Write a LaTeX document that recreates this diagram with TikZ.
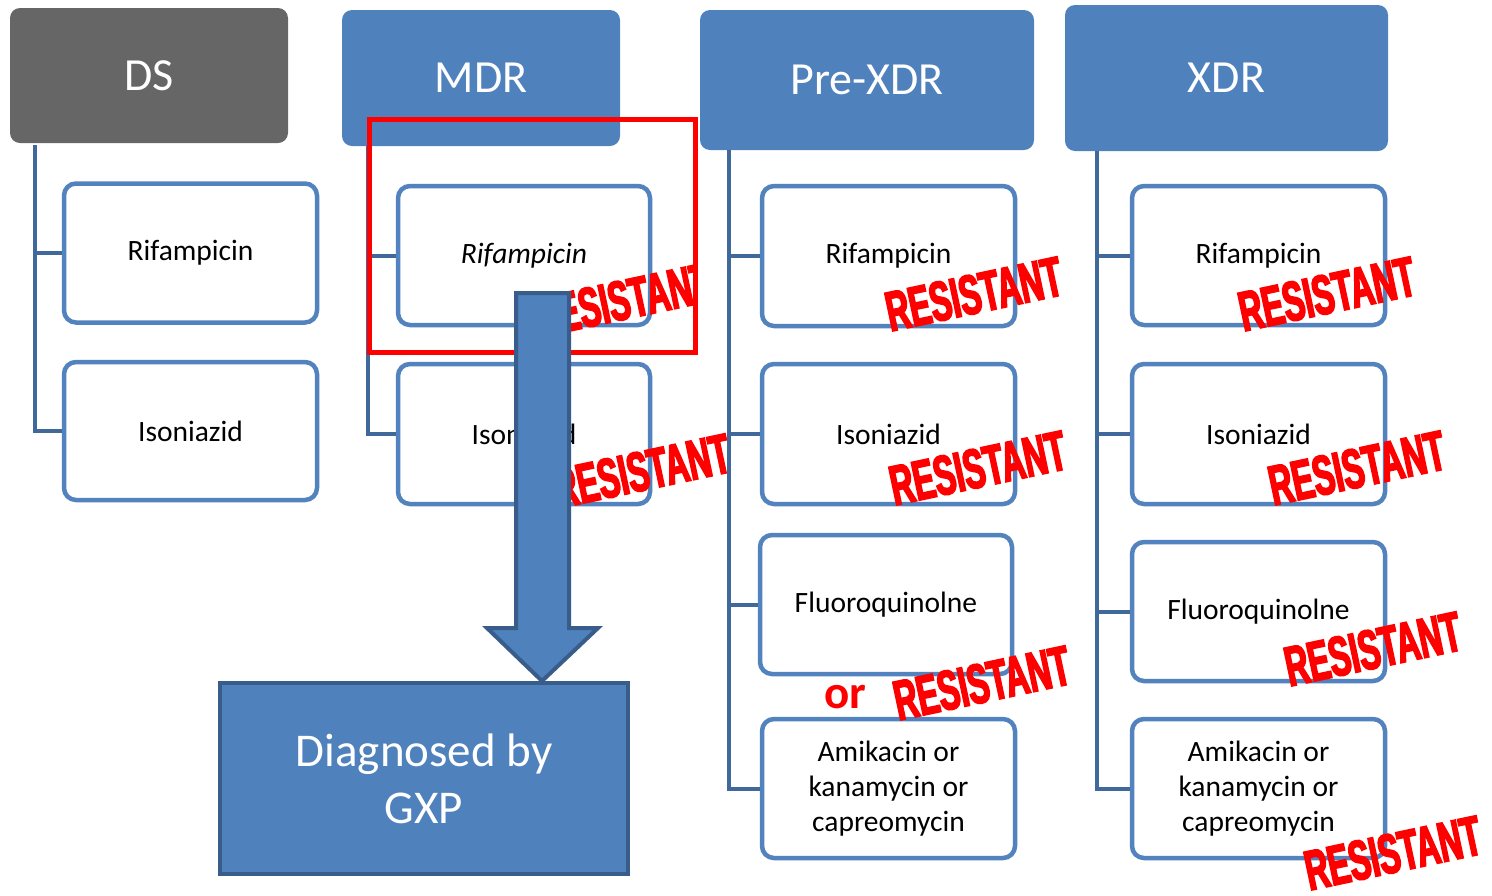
\documentclass[tikz,border=0pt]{standalone}
\usepackage{fontspec}
\setmainfont{Carlito}
\newfontfamily\stampfont[FakeStretch=0.57,FakeBold=3]{Liberation Sans Bold}
\definecolor{hdblue}{HTML}{4F81BD}
\definecolor{hdgray}{HTML}{666666}
\definecolor{bxblue}{HTML}{5283BF}
\definecolor{trunk}{HTML}{41689B}
\definecolor{arrowedge}{HTML}{385D8A}
\tikzset{
  hdr/.style={fill=hdblue, rounded corners=10pt, text=white, inner sep=0pt,
    font=\fontsize{46}{55}\selectfont},
  drug/.style={draw=bxblue, line width=4.5pt, rounded corners=12pt, fill=white,
    inner sep=0pt, align=center, minimum width=253pt, minimum height=139pt,
    font=\fontsize{29.5}{35}\selectfont},
  tree/.style={draw=trunk, line width=4pt},
  stamp/.style={text=red, inner sep=0pt, rotate=12,
    font=\stampfont\fontsize{56}{56}\selectfont},
  bigblue/.style={fill=hdblue, draw=arrowedge, line width=4pt, line join=miter}
}
\begin{document}
\begin{tikzpicture}[x=1pt,y=-1pt]
\useasboundingbox (0,0) rectangle (1492,895);
% headers
\node[hdr, fill=hdgray, minimum width=278pt, minimum height=135pt] (ds) at (149,75.5) {DS};
\node[hdr, minimum width=278pt, minimum height=136pt] (mdr) at (481,78) {MDR};
\node[hdr, minimum width=334pt, minimum height=140pt] (pre) at (867,80) {Pre-XDR};
\node[hdr, minimum width=323pt, minimum height=146pt] (xdr) at (1226.5,78) {XDR};
% trunk tops
\coordinate (dsT) at (35,145);
\coordinate (mdrT) at (368,146);
\coordinate (preT) at (729,150);
\coordinate (xdrT) at (1097,151);
% drug boxes
\node[drug] (ds1) at (190.5,253) {Rifampicin};
\node[drug, minimum height=138pt] (ds2) at (190.5,431) {Isoniazid};
\node[drug, minimum width=252pt] (mdr1) at (524,255.5) {\itshape Rifampicin};
\node[drug, minimum width=252pt, minimum height=140pt] (mdr2) at (524,434) {Isoniazid};
\node[drug, minimum height=140pt] (pre1) at (888.5,256) {Rifampicin};
\node[drug, minimum height=140pt] (pre2) at (888.5,434) {Isoniazid};
\node[drug, minimum width=252pt] (pre3) at (886,604.5) {Fluoroquinolne};
\node[drug] (pre4) at (888.5,788.5) {Amikacin or\\kanamycin or\\capreomycin};
\node[drug] (xdr1) at (1258.5,255.5) {Rifampicin};
\node[drug, minimum height=140pt] (xdr2) at (1258.5,434) {Isoniazid};
\node[drug] (xdr3) at (1258.5,611.5) {Fluoroquinolne};
\node[drug] (xdr4) at (1258.5,788.5) {Amikacin or\\kanamycin or\\capreomycin};
% connectors
\draw[tree] (dsT) |- (ds2.west);
\draw[tree] (dsT |- ds1.west) -- (ds1.west);
\draw[tree] (mdrT) |- (mdr2.west);
\draw[tree] (mdrT |- mdr1.west) -- (mdr1.west);
\draw[tree] (preT) |- (pre4.west);
\draw[tree] (preT |- pre1.west) -- (pre1.west);
\draw[tree] (preT |- pre2.west) -- (pre2.west);
\draw[tree] (preT |- pre3.west) -- (pre3.west);
\draw[tree] (xdrT) |- (xdr4.west);
\draw[tree] (xdrT |- xdr1.west) -- (xdr1.west);
\draw[tree] (xdrT |- xdr2.west) -- (xdr2.west);
\draw[tree] (xdrT |- xdr3.west) -- (xdr3.west);
% resistant stamps
\begin{scope}
  \clip (0,0) rectangle (697,895);
  \node[stamp] (s1) at (623,300) {RESISTANT};
\end{scope}
\node[stamp] (s2) at (642,471) {RESISTANT};
\node[stamp] (s3) at (974,294) {RESISTANT};
\node[stamp] (s4) at (978,468) {RESISTANT};
\node[stamp] (s5) at (982,683) {RESISTANT};
\node[stamp] (s6) at (1327,294) {RESISTANT};
\node[stamp] (s7) at (1357,468) {RESISTANT};
\node[stamp] (s8) at (1373,649) {RESISTANT};
\node[stamp] (s9) at (1393,853) {RESISTANT};
\node[text=red, inner sep=0pt, font=\bfseries\fontsize{47}{47}\selectfont] (or) at (845,697) {or};
% red highlight
\draw[red, line width=5pt] (369.5,119.5) rectangle (695.5,352.5);
% diagnosed box and arrow
\node[bigblue, minimum width=408pt, minimum height=191pt, text=white, align=center,
  font=\fontsize{47}{57}\selectfont] (gxp) at (424,778.5) {Diagnosed by\\GXP};
\coordinate (shaft) at (542,293);
\coordinate (tip) at (gxp.north -| shaft);
\draw[bigblue] (516,293) -- (569,293) -- (569,628) -- (598,628) -- (tip)
  -- (487,628) -- (516,628) -- cycle;
\end{tikzpicture}
\end{document}
